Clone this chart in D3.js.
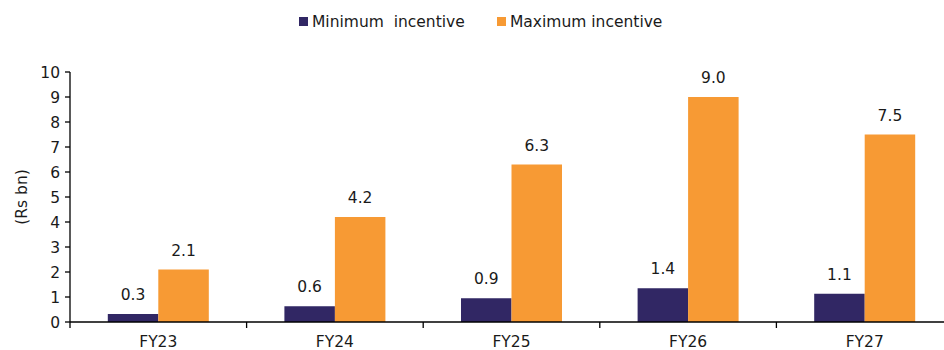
<!DOCTYPE html>
<html>
<head>
<meta charset="utf-8">
<script src="https://cdn.jsdelivr.net/npm/d3@7"></script>
<style>
  body { margin: 0; background: #fff; }
  svg text { font-family: "DejaVu Sans", Verdana, sans-serif; fill: #1a1a1a; }
</style>
</head>
<body>
<div id="chart"></div>
<script>
const years = ["FY23", "FY24", "FY25", "FY26", "FY27"];
const minIncentive = [0.32, 0.63, 0.95, 1.35, 1.13];
const maxIncentive = [2.1, 4.2, 6.3, 9.0, 7.5];
const seriesNames = ["Minimum  incentive", "Maximum incentive"];
const yTicks = [0, 1, 2, 3, 4, 5, 6, 7, 8, 9, 10];

const fullwidth = 944, fullheight = 350;
const colors = ["#312764", "#f79a34"];
const plotLeft = 70, plotRight = 953, plotTop = 72, plotBottom = 322;
const fs = 15.5;

const svg = d3.select("#chart").append("svg")
  .attr("width", fullwidth)
  .attr("height", fullheight);

const x = d3.scaleBand().domain(years).range([plotLeft, plotRight]);
const y = d3.scaleLinear().domain([0, 10]).range([plotBottom, plotTop]);
const barW = 50.5;

// y axis
svg.append("line").attr("x1", plotLeft).attr("x2", plotLeft).attr("y1", plotTop).attr("y2", plotBottom)
  .attr("stroke", "#000").attr("stroke-width", 1.3);
svg.selectAll(".ytick").data(yTicks).enter().append("line")
  .attr("x1", plotLeft - 5).attr("x2", plotLeft)
  .attr("y1", d => y(d)).attr("y2", d => y(d))
  .attr("stroke", "#000").attr("stroke-width", 1.3);
svg.selectAll(".ylab").data(yTicks).enter().append("text")
  .attr("x", plotLeft - 10).attr("y", d => y(d) + 5.5)
  .attr("text-anchor", "end").attr("font-size", fs)
  .text(d => d);

svg.append("text")
  .attr("transform", `translate(27,${(plotTop + plotBottom) / 2}) rotate(-90)`)
  .attr("text-anchor", "middle").attr("font-size", fs)
  .text("(Rs bn)");

// bars
const series = [minIncentive, maxIncentive];
series.forEach((vals, s) => {
  svg.selectAll(".bar" + s).data(years).enter().append("rect")
    .attr("x", d => x(d) + x.bandwidth() / 2 - barW + s * barW)
    .attr("width", barW)
    .attr("y", (d, i) => y(vals[i]))
    .attr("height", (d, i) => y(0) - y(vals[i]))
    .attr("fill", colors[s]);
  svg.selectAll(".lab" + s).data(years).enter().append("text")
    .attr("x", d => x(d) + x.bandwidth() / 2 - barW / 2 + s * barW)
    .attr("y", (d, i) => y(vals[i]) - 14)
    .attr("text-anchor", "middle").attr("font-size", fs)
    .text((d, i) => vals[i].toFixed(1));
});

// x axis
svg.append("line").attr("x1", plotLeft).attr("x2", plotRight).attr("y1", plotBottom).attr("y2", plotBottom)
  .attr("stroke", "#000").attr("stroke-width", 1.3);
svg.selectAll(".xtick").data(years.concat(["end"])).enter().append("line")
  .attr("x1", (d, i) => plotLeft + i * x.bandwidth())
  .attr("x2", (d, i) => plotLeft + i * x.bandwidth())
  .attr("y1", plotBottom).attr("y2", plotBottom + 6)
  .attr("stroke", "#000").attr("stroke-width", 1.3);
svg.selectAll(".xlab").data(years).enter().append("text")
  .attr("x", d => x(d) + x.bandwidth() / 2)
  .attr("y", plotBottom + 25)
  .attr("text-anchor", "middle").attr("font-size", fs)
  .text(d => d);

// legend
const legendX = [299, 497];
seriesNames.forEach((name, s) => {
  svg.append("rect").attr("x", legendX[s]).attr("y", 17).attr("width", 9).attr("height", 9)
    .attr("fill", colors[s]);
  svg.append("text").attr("x", legendX[s] + 13).attr("y", 27)
    .attr("font-size", fs).attr("xml:space", "preserve").style("white-space", "pre")
    .text(name);
});
</script>
</body>
</html>
